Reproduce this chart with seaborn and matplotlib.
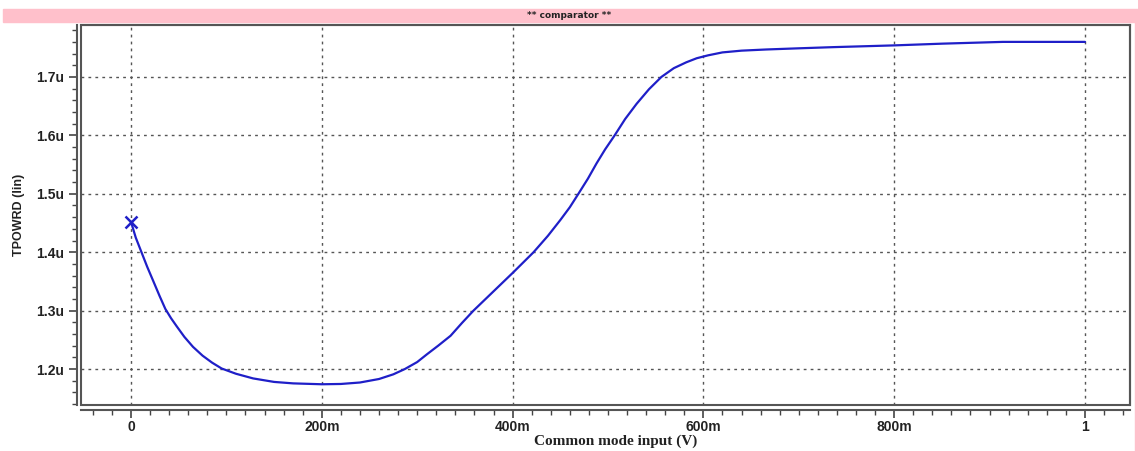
import numpy as np
import pandas as pd
import seaborn as sns
import matplotlib.pyplot as plt
from matplotlib.patches import Rectangle
from matplotlib.ticker import MultipleLocator, FixedLocator, FixedFormatter

# common mode input (V) vs TPOWRD (u)
vcm = [0.0, 0.005, 0.011, 0.017, 0.023, 0.03, 0.036, 0.042, 0.048, 0.056,
       0.065, 0.075, 0.085, 0.095, 0.11, 0.128, 0.15, 0.17, 0.2, 0.22,
       0.24, 0.26, 0.275, 0.287, 0.3, 0.31, 0.322, 0.335, 0.347, 0.359,
       0.38, 0.401, 0.422, 0.437, 0.45, 0.46, 0.469, 0.479, 0.488, 0.497,
       0.507, 0.518, 0.53, 0.543, 0.556, 0.569, 0.582, 0.593, 0.605, 0.62,
       0.64, 0.666, 0.7, 0.736, 0.8, 0.851, 0.914, 0.96, 1.0]
tpowrd = [1.452, 1.425, 1.400, 1.375, 1.352, 1.325, 1.303, 1.287, 1.273, 1.255,
          1.238, 1.223, 1.211, 1.201, 1.192, 1.184, 1.178, 1.1755, 1.174, 1.1745,
          1.177, 1.183, 1.191, 1.200, 1.212, 1.225, 1.240, 1.257, 1.279, 1.300,
          1.333, 1.366, 1.400, 1.428, 1.455, 1.477, 1.500, 1.526, 1.552, 1.576,
          1.600, 1.628, 1.654, 1.679, 1.700, 1.715, 1.725, 1.732, 1.737, 1.742,
          1.745, 1.747, 1.749, 1.751, 1.754, 1.757, 1.760, 1.760, 1.760]

xticks = [0, 0.2, 0.4, 0.6, 0.8, 1.0]
xlabels = ["0", "200m", "400m", "600m", "800m", "1"]
yticks = [1.2, 1.3, 1.4, 1.5, 1.6, 1.7]
ylabels = ["1.2u", "1.3u", "1.4u", "1.5u", "1.6u", "1.7u"]

df = pd.DataFrame({"vcm": vcm, "tpowrd": tpowrd})

sns.set_style("white")
plt.rcParams['font.family'] = ['Liberation Sans', 'DejaVu Sans']

W, H = 1138, 451
fig = plt.figure(figsize=(W / 100, H / 100), dpi=100)

# pink title band + right edge strip
fig.patches.append(Rectangle((3 / W, 1 - 22 / H), 1 - 3 / W, 13 / H,
                             transform=fig.transFigure, color="#ffc0cb", zorder=0))
fig.patches.append(Rectangle((1 - 3 / W, 0), 3 / W, 1 - 22 / H,
                             transform=fig.transFigure, color="#ffc0cb", zorder=0))
fig.text(0.5, 1 - 15.5 / H, "** comparator **", ha="center", va="center",
         fontsize=6.5, fontweight="bold", family="Liberation Sans Narrow", color="#222222")

ax = fig.add_axes([81 / W, (H - 405) / H, (1130 - 81) / W, (405 - 25) / H])

grid_kw = dict(color="#555555", lw=1.0, ls=(0, (2, 3)), zorder=1)
for xt in xticks:
    ax.axvline(xt, **grid_kw)
for yt in yticks:
    ax.axhline(yt, **grid_kw)

sns.lineplot(data=df, x="vcm", y="tpowrd", ax=ax, color="#1f1fc8", lw=1.6, zorder=3)
ax.plot(df["vcm"].iloc[:1], df["tpowrd"].iloc[:1], marker="x", color="#1f1fc8",
        ms=9, mew=1.8, zorder=4)

ax.set_xlim(-0.0524, 1.0472)
ax.set_ylim(1.1385, 1.7889)

ax.xaxis.set_major_locator(FixedLocator(xticks))
ax.xaxis.set_major_formatter(FixedFormatter(xlabels))
ax.xaxis.set_minor_locator(MultipleLocator(0.02))
ax.yaxis.set_major_locator(FixedLocator(yticks))
ax.yaxis.set_major_formatter(FixedFormatter(ylabels))
ax.yaxis.set_minor_locator(MultipleLocator(0.02))

for s in ["top", "right"]:
    ax.spines[s].set_color("#555555")
    ax.spines[s].set_linewidth(1.5)
ax.spines["left"].set_position(("outward", 3))
ax.spines["bottom"].set_position(("outward", 3.6))
for s in ["left", "bottom"]:
    ax.spines[s].set_color("#555555")
    ax.spines[s].set_linewidth(1.5)
ax.add_patch(Rectangle((0, 0), 1, 1, transform=ax.transAxes, fill=False,
                       ec="#555555", lw=1.5, zorder=5, clip_on=False))

ax.tick_params(which="major", direction="out", length=6, width=1.2, color="#444444",
               labelsize=10, labelcolor="#222222", pad=3, bottom=True, left=True)
ax.tick_params(axis="x", which="major", pad=1.5)
ax.tick_params(which="minor", direction="out", length=3.5, width=1.0, color="#444444",
               bottom=True, left=True)
for lab in ax.get_xticklabels() + ax.get_yticklabels():
    lab.set_fontweight("bold")

ax.set_xlabel("Common mode input (V)", family="Liberation Serif", fontweight="bold",
              fontsize=11, labelpad=0, color="#222222")
ax.set_ylabel("TPOWRD (lin)", fontweight="bold", fontsize=9, labelpad=8, color="#222222")
ax.xaxis.set_label_coords(0.51, -0.077)

fig.savefig("out.png", dpi=100)
